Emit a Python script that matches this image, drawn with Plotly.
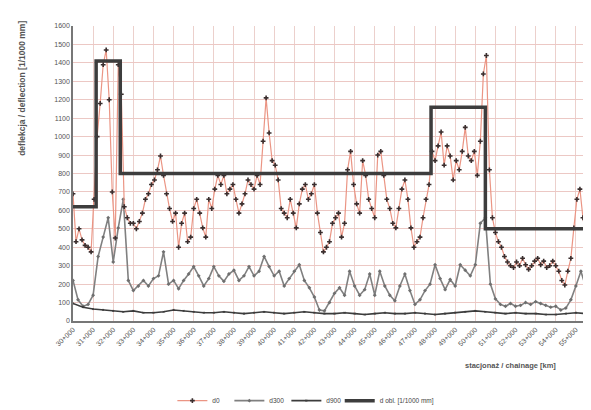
import plotly.graph_objects as go

# ---- data ----
km_start = 30.0
d0_step = 0.15
d0 = [690, 430, 500, 440, 410, 400, 375, 660, 1000, 1180, 1390, 1470, 1200, 700, 450,
      1390, 1230, 620, 560, 530, 530, 500, 540, 585, 660, 690, 740, 765, 820, 895,
      790, 690, 610, 540, 585, 400, 530, 585, 430, 455, 610, 660, 585, 505, 455,
      660, 610, 715, 790, 740, 790, 690, 715, 740, 660, 585, 635, 690, 765, 740,
      715, 790, 740, 975, 1210, 1020, 870, 845, 765, 610, 585, 560, 660, 585, 505,
      635, 715, 740, 660, 690, 740, 585, 480, 375, 400, 430, 530, 560, 585, 455,
      530, 820, 920, 740, 635, 585, 870, 790, 660, 610, 560, 900, 920, 790, 660,
      610, 530, 505, 610, 715, 765, 660, 505, 400, 430, 455, 560, 660, 740, 920,
      870, 950, 1025, 845, 950, 895, 765, 870, 820, 920, 1050, 895, 870, 920, 790,
      975, 1340, 1440, 820, 560, 480, 430, 400, 350, 320, 300, 290, 320, 300, 340,
      305, 280, 300, 325, 340, 305, 325, 290, 300, 325, 300, 270, 220, 195, 270,
      340, 505, 660, 715, 560, 455, 300, 245, 430, 195]

d300_step = 0.25
d300 = [220, 115, 80, 90, 140, 350, 455, 560, 320, 505, 660, 220, 165, 190, 220,
        190, 230, 245, 375, 200, 220, 175, 220, 255, 295, 245, 190, 230, 295, 245,
        215, 255, 275, 220, 245, 295, 245, 270, 350, 295, 245, 270, 190, 230, 270,
        305, 220, 180, 130, 60, 55, 100, 150, 180, 140, 270, 190, 140, 170, 255,
        140, 270, 190, 140, 110, 190, 255, 165, 90, 115, 165, 200, 305, 230, 170,
        225, 190, 305, 275, 245, 305, 530, 560, 200, 120, 90, 80, 95, 80, 85,
        100, 90, 105, 95, 85, 75, 80, 60, 70, 115, 190, 270, 180, 105, 140]

d900_step = 0.5
d900 = [95, 75, 65, 60, 55, 50, 55, 45, 45, 50, 60, 55, 50, 45, 45, 50, 45, 40,
        45, 50, 45, 40, 45, 50, 45, 40, 40, 45, 40, 35, 40, 45, 40, 40, 45, 40,
        35, 40, 45, 50, 55, 50, 45, 40, 45, 40, 40, 35, 35, 40, 45, 40, 40]

sect_km = [30.0, 31.15, 32.35, 47.8, 50.5, 56.0]
sect_val = [620, 1410, 800, 1160, 500, 500]

tick_km = list(range(30, 57))
tick_text = [f"{k}+000" for k in tick_km]
y_ticks = list(range(0, 1700, 100))

names = ["d0", "d300", "d900", "d obl. [1/1000 mm]"]

x_d0 = [km_start + d0_step * i for i in range(len(d0))]
x_d300 = [km_start + d300_step * i for i in range(len(d300))]
x_d900 = [km_start + d900_step * i for i in range(len(d900))]

fig = go.Figure()
fig.add_trace(go.Scatter(
    x=x_d300, y=d300, name=names[1], mode="lines+markers", legendrank=2,
    line=dict(color="#808080", width=1.6),
    marker=dict(symbol="diamond", size=3, color="#6f6f6f")))
fig.add_trace(go.Scatter(
    x=x_d900, y=d900, name=names[2], mode="lines+markers", legendrank=3,
    line=dict(color="#3c3c3c", width=1.6),
    marker=dict(symbol="x", size=2, color="#3c3c3c")))
fig.add_trace(go.Scatter(
    x=x_d0, y=d0, name=names[0], mode="lines+markers", legendrank=1,
    line=dict(color="#eb9584", width=1.2),
    marker=dict(symbol="cross", size=4, color="#3a2e2e")))
fig.add_trace(go.Scatter(
    x=sect_km, y=sect_val, name=names[3], mode="lines", legend="legend2",
    line=dict(color="#3d3d3d", width=3.5, shape="hv")))

leg_common = dict(orientation="h", y=-0.27, yanchor="middle",
                  font=dict(size=6.5, color="#444"), bgcolor="rgba(0,0,0,0)",
                  itemwidth=30)

fig.update_layout(
    width=591, height=410,
    margin=dict(l=65, r=3, t=18, b=83),
    paper_bgcolor="white", plot_bgcolor="white",
    font=dict(family="Liberation Sans, Arial, sans-serif", size=7, color="#555"),
    showlegend=True,
    legend=dict(x=0.19, xanchor="left", traceorder="normal",
                entrywidth=12, entrywidthmode="pixels", **leg_common),
    legend2=dict(x=0.51, xanchor="left", **leg_common),
    xaxis=dict(range=[30, 56], tickmode="array", tickvals=tick_km, ticktext=tick_text,
               tickangle=-45, showgrid=True, gridcolor="#ecd0cc", gridwidth=1,
               showline=True, linecolor="#777", linewidth=1.5, ticks="",
               zeroline=False, tickfont=dict(size=7, color="#555")),
    yaxis=dict(range=[0, 1600], tickmode="array", tickvals=y_ticks,
               showgrid=True, gridcolor="#ecc8c4", gridwidth=1,
               showline=True, linecolor="#777", linewidth=1.5, ticks="",
               zeroline=False, tickfont=dict(size=7, color="#555")),
    annotations=[
        dict(text="<b>deflekcja / deflection [1/1000 mm]</b>", textangle=-90,
             x=-0.098, xref="paper", y=1.025, yref="paper", xanchor="center",
             yanchor="top", showarrow=False, font=dict(size=8.5, color="#555")),
        dict(text="<b>stacjonaż / chainage [km]</b>", x=0.745, xref="paper",
             y=-0.15, yref="paper", xanchor="left", yanchor="middle",
             showarrow=False, font=dict(size=7.5, color="#555")),
    ],
)

fig.write_html("out.html")
